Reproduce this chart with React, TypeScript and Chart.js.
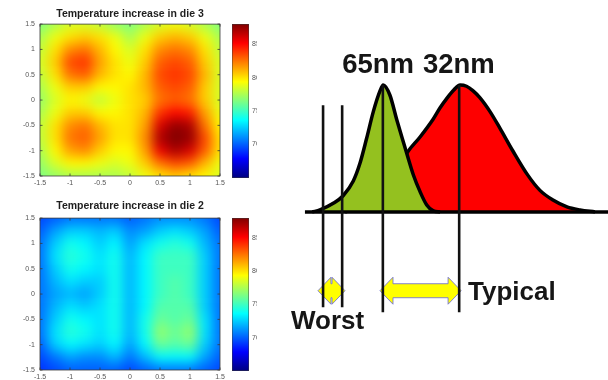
import React, { useEffect, useRef } from 'react';
import { Chart, registerables } from 'chart.js';
Chart.register(...registerables);

const FONT = '"Liberation Sans", Arial, sans-serif';

// ---- heat maps ----
const gridX = [-1.5, -1.25, -1, -0.75, -0.5, -0.25, 0, 0.25, 0.5, 0.75, 1, 1.25, 1.5];
const gridY = [1.5, 1.25, 1, 0.75, 0.5, 0.25, 0, -0.25, -0.5, -0.75, -1, -1.25, -1.5];
const axisTicks = [-1.5, -1, -0.5, 0, 0.5, 1, 1.5];
const colorTicks = [70, 75, 80, 85];
const tempMin = 65;
const tempMax = 88;

const die3Temps = [
  [76.5, 77.5, 78.5, 78.5, 78, 77, 76.5, 77.5, 78.5, 79, 78.5, 77.5, 76.5],
  [77.5, 79, 80, 80.5, 80, 79, 77.5, 79, 80.5, 81, 80.5, 79, 77.5],
  [78, 80, 82, 82.5, 81, 79.5, 78.5, 80, 82, 82.5, 82, 80, 78],
  [78.5, 80.5, 83.5, 84, 81.5, 80, 79, 80.5, 83, 83.5, 83, 80.5, 78.5],
  [78, 80, 82.5, 83, 81, 80, 79.5, 81, 83.5, 84, 83.5, 81, 78.5],
  [77.5, 79, 80.5, 80.5, 79.5, 79.5, 80, 81, 83, 83.5, 83, 80.5, 78.5],
  [77, 78.5, 79.5, 79, 78, 79, 80, 80.5, 82.5, 83, 82.5, 80.5, 78.5],
  [77.5, 79, 80.5, 80.5, 79.5, 79.5, 80, 81, 84, 85, 84.5, 81.5, 79],
  [78, 80, 82, 82.5, 81, 80, 80, 81.5, 86, 87.5, 87, 82.5, 79.5],
  [78, 80, 82.5, 83, 81.5, 80, 80, 82, 87, 88, 87.5, 83.5, 80],
  [77.5, 79.5, 81.5, 82, 80.5, 79.5, 79.5, 81.5, 85.5, 87, 86, 83, 80],
  [77, 78.5, 79.5, 79.5, 79, 78.5, 79, 80.5, 82.5, 83.5, 83, 81, 79],
  [76.5, 77, 77.5, 77.5, 77.5, 77.5, 78, 79, 80, 80.5, 80, 79.5, 78.5],
];

const die2Temps = [
  [69.5, 70, 70.5, 70.5, 70.5, 70.5, 70, 70.5, 71, 71, 71, 70.5, 69.5],
  [70, 71.5, 72.5, 72.5, 72, 72.5, 71, 71.5, 72.5, 73, 72.5, 71.5, 70],
  [70.5, 72.5, 74, 73.5, 72.5, 73.5, 71.5, 73, 74, 74.5, 74, 72, 70.5],
  [70.5, 73, 74.5, 74, 73, 74, 72, 73.5, 75, 75, 75, 72.5, 70.5],
  [70.5, 72.5, 74, 73.5, 73, 74, 72, 73.5, 75, 75, 75, 72.5, 70.5],
  [70.5, 72, 73, 72.5, 72.5, 74, 72, 73.5, 75, 75.5, 75, 72.5, 70.5],
  [70.5, 71.5, 72, 71.5, 72.5, 74, 72, 73.5, 75, 75.5, 75, 72.5, 70.5],
  [70.5, 72, 73, 72.5, 73, 74, 72, 73.5, 75.5, 75.5, 75.5, 72.5, 70.5],
  [70.5, 72.5, 74, 73.5, 73, 74, 72, 74, 76, 75.5, 76, 73, 70.5],
  [70.5, 73, 74.5, 74, 73, 74, 72, 74, 77, 76, 77, 73, 70.5],
  [70, 72.5, 73.5, 73, 72.5, 73.5, 71.5, 73.5, 76, 75.5, 76, 72.5, 70.5],
  [69.5, 70.5, 71.5, 71, 71, 72, 70.5, 72, 73.5, 73.5, 73.5, 71.5, 70],
  [69, 69.5, 70, 70, 70, 70, 69.5, 70, 70.5, 70.5, 70.5, 70, 69.5],
];

// ---- distributions ----
const delay65 = [7, 9.4, 13.6, 16.7, 19.9, 22, 24.1, 26.2, 28.3, 29.3, 31.4, 33.6, 35.6, 36.7, 38.8, 40.9, 43, 45.1, 47.2];
const density65 = [0, 0.016, 0.068, 0.128, 0.244, 0.383, 0.58, 0.79, 0.953, 1.0, 0.921, 0.724, 0.554, 0.462, 0.291, 0.16, 0.055, 0.008, 0];
const delay32 = [17.3, 23.6, 29.9, 34, 36.8, 40.9, 45, 47.2, 49.5, 51.5, 53.5, 55.5, 57.5, 59.7, 62.9, 66, 70.1, 74.5, 78.6, 82.7, 87.1, 91.2, 95.9];
const density32 = [0, 0.055, 0.17, 0.33, 0.465, 0.59, 0.73, 0.82, 0.9, 0.96, 1.0, 0.99, 0.955, 0.9, 0.79, 0.66, 0.48, 0.3, 0.17, 0.094, 0.04, 0.016, 0];
const baselineDelay = [4.7, 100];
const markerDelay = [10.4, 16.4, 29.2, 53.2];
const markerTop = [0.84, 0.84, 1.0, 1.0];
const markerBottom = [-0.75, -0.75, -0.79, -0.79];
const arrowFrom = [8.8, 28.3];
const arrowTo = [17.3, 53.8];
const arrowLevel = [-0.62, -0.62];
const noteText = ['65nm', '32nm', 'Typical', 'Worst'];
const noteDelay = [27.7, 53.1, 56.0, 0.3];
const noteLevel = [1.094, 1.094, -0.693, -0.921];
const noteAlign = ['center', 'center', 'left', 'left'];

function clamp01(v: number) {
  return Math.max(0, Math.min(1, v));
}
function jet(t: number) {
  const tt = clamp01(t);
  const r = clamp01(1.5 - Math.abs(4 * tt - 3));
  const g = clamp01(1.5 - Math.abs(4 * tt - 2));
  const b = clamp01(1.5 - Math.abs(4 * tt - 1));
  return `rgb(${Math.round(r * 255)},${Math.round(g * 255)},${Math.round(b * 255)})`;
}

const heatPlugin = {
  id: 'heat',
  beforeDatasetsDraw(chart: any) {
    const { ctx, chartArea: a, scales } = chart;
    const xs = scales.x;
    const ys = scales.y;
    const pts = chart.data.datasets[0].data;
    const hx = (gridX[1] - gridX[0]) / 2;
    const hy = (gridY[0] - gridY[1]) / 2;
    const pad = 30;
    const off = document.createElement('canvas');
    off.width = Math.ceil(a.right - a.left) + 2 * pad;
    off.height = Math.ceil(a.bottom - a.top) + 2 * pad;
    const o = off.getContext('2d')!;
    const ox = a.left - pad;
    const oy = a.top - pad;
    const xMin = gridX[0], xMax = gridX[gridX.length - 1];
    const yMax = gridY[0], yMin = gridY[gridY.length - 1];
    for (const p of pts) {
      let x0 = xs.getPixelForValue(p.x - hx) - ox;
      let x1 = xs.getPixelForValue(p.x + hx) - ox;
      let y0 = ys.getPixelForValue(p.y + hy) - oy;
      let y1 = ys.getPixelForValue(p.y - hy) - oy;
      if (p.x <= xMin) x0 = 0;
      if (p.x >= xMax) x1 = off.width;
      if (p.y >= yMax) y0 = 0;
      if (p.y <= yMin) y1 = off.height;
      o.fillStyle = jet((p.v - tempMin) / (tempMax - tempMin));
      o.fillRect(x0, y0, x1 - x0 + 0.6, y1 - y0 + 0.6);
    }
    ctx.save();
    ctx.beginPath();
    ctx.rect(a.left, a.top, a.right - a.left, a.bottom - a.top);
    ctx.clip();
    ctx.filter = 'blur(6px)';
    ctx.drawImage(off, ox, oy);
    ctx.restore();
  },
  afterDatasetsDraw(chart: any) {
    const { ctx, chartArea: a, scales } = chart;
    ctx.save();
    ctx.strokeStyle = '#3a3a3a';
    ctx.lineWidth = 0.8;
    ctx.strokeRect(a.left, a.top, a.right - a.left, a.bottom - a.top);
    ctx.beginPath();
    for (const v of axisTicks) {
      const px = scales.x.getPixelForValue(v);
      ctx.moveTo(px, a.bottom); ctx.lineTo(px, a.bottom - 2.5);
      ctx.moveTo(px, a.top); ctx.lineTo(px, a.top + 2.5);
      const py = scales.y.getPixelForValue(v);
      ctx.moveTo(a.left, py); ctx.lineTo(a.left + 2.5, py);
      ctx.moveTo(a.right, py); ctx.lineTo(a.right - 2.5, py);
    }
    ctx.stroke();
    ctx.restore();
  },
};

function heatConfig(title: string, temps: number[][], titlePad: { top: number; bottom: number }, xAxisHeight: number) {
  const data: any[] = [];
  gridY.forEach((yv, r) => gridX.forEach((xv, c) => data.push({ x: xv, y: yv, v: temps[r][c] })));
  const tickFont = { family: FONT, size: 7 };
  return {
    type: 'scatter',
    data: { datasets: [{ data, pointRadius: 0, pointHoverRadius: 0 }] },
    options: {
      animation: false,
      responsive: false,
      events: [],
      layout: { padding: { left: 0, right: 12, top: 0, bottom: 0 } },
      plugins: {
        legend: { display: false },
        tooltip: { enabled: false },
        title: {
          display: true,
          fullSize: false,
          text: title,
          color: '#1e1e1e',
          font: { family: FONT, size: 10.5, weight: 'bold', lineHeight: 1.2 },
          padding: titlePad,
        },
      },
      scales: {
        x: {
          type: 'linear',
          min: -1.5,
          max: 1.5,
          afterBuildTicks: (s: any) => { s.ticks = axisTicks.map((v) => ({ value: v })); },
          afterFit: (s: any) => { s.height = xAxisHeight; },
          grid: { display: false, drawTicks: false },
          border: { display: false },
          ticks: { font: tickFont, color: '#555', padding: 3, maxRotation: 0, autoSkip: false, callback: (v: any) => String(v) },
        },
        y: {
          type: 'linear',
          min: -1.5,
          max: 1.5,
          afterBuildTicks: (s: any) => { s.ticks = axisTicks.map((v) => ({ value: v })); },
          afterFit: (s: any) => { s.width = 40; },
          grid: { display: false, drawTicks: false },
          border: { display: false },
          ticks: { font: tickFont, color: '#555', padding: 5, autoSkip: false, callback: (v: any) => String(v) },
        },
      },
    },
    plugins: [heatPlugin],
  };
}

function colorbarConfig(padTop: number, padBottom: number) {
  return {
    type: 'bar',
    data: {
      labels: [''],
      datasets: [{
        data: [[tempMin, tempMax]],
        backgroundColor: (c: any) => {
          const chart = c.chart;
          if (!chart.chartArea) return 'transparent';
          const ys = chart.scales.y;
          const g = chart.ctx.createLinearGradient(0, ys.getPixelForValue(tempMin), 0, ys.getPixelForValue(tempMax));
          for (let i = 0; i <= 32; i++) g.addColorStop(i / 32, jet(i / 32));
          return g;
        },
        borderColor: '#3a3a3a',
        borderWidth: 0.8,
        borderSkipped: false,
        barPercentage: 1,
        categoryPercentage: 1,
      }],
    },
    options: {
      animation: false,
      responsive: false,
      events: [],
      layout: { padding: { left: 6, right: 0, top: padTop, bottom: padBottom } },
      plugins: { legend: { display: false }, tooltip: { enabled: false } },
      scales: {
        x: { display: false },
        y: {
          position: 'right',
          min: tempMin,
          max: tempMax,
          afterBuildTicks: (s: any) => { s.ticks = colorTicks.map((v) => ({ value: v })); },
          afterFit: (s: any) => { s.width = 8; },
          grid: { display: false, drawTicks: false },
          border: { display: false },
          ticks: { font: { family: FONT, size: 7 }, color: '#555', padding: 3 },
        },
      },
    },
  };
}

const notesPlugin = {
  id: 'notes',
  beforeDatasetsDraw(chart: any) {
    const { ctx, scales } = chart;
    ctx.save();
    arrowFrom.forEach((from, i) => {
      const x0 = scales.x.getPixelForValue(from);
      const x1 = scales.x.getPixelForValue(arrowTo[i]);
      const yc = scales.y.getPixelForValue(arrowLevel[i]);
      const hl = Math.min(13, (x1 - x0) / 2);
      const hh = 13.5;
      const sh = 7;
      ctx.beginPath();
      ctx.moveTo(x0, yc);
      ctx.lineTo(x0 + hl, yc - hh);
      ctx.lineTo(x0 + hl, yc - sh);
      ctx.lineTo(x1 - hl, yc - sh);
      ctx.lineTo(x1 - hl, yc - hh);
      ctx.lineTo(x1, yc);
      ctx.lineTo(x1 - hl, yc + hh);
      ctx.lineTo(x1 - hl, yc + sh);
      ctx.lineTo(x0 + hl, yc + sh);
      ctx.lineTo(x0 + hl, yc + hh);
      ctx.closePath();
      ctx.fillStyle = '#ffff00';
      ctx.fill();
      ctx.strokeStyle = 'rgba(110,110,210,0.85)';
      ctx.lineWidth = 1;
      ctx.stroke();
    });
    ctx.restore();
  },
  afterDatasetsDraw(chart: any) {
    const { ctx, scales } = chart;
    ctx.save();
    ctx.fillStyle = '#161616';
    ctx.textBaseline = 'alphabetic';
    noteText.forEach((t, i) => {
      ctx.font = `bold ${i < 2 ? 27.5 : 26}px ${FONT}`;
      ctx.textAlign = noteAlign[i];
      ctx.fillText(t, scales.x.getPixelForValue(noteDelay[i]), scales.y.getPixelForValue(noteLevel[i]));
    });
    ctx.restore();
  },
};

function distConfig() {
  const lineBase = { pointRadius: 0, pointHoverRadius: 0, clip: false as any };
  const datasets: any[] = [
    {
      ...lineBase,
      label: '65nm',
      data: delay65.map((x, i) => ({ x, y: density65[i] })),
      borderColor: '#000',
      borderWidth: 3.5,
      backgroundColor: '#94c11f',
      fill: 'origin',
      cubicInterpolationMode: 'monotone',
      borderJoinStyle: 'round',
      order: 2,
    },
    {
      ...lineBase,
      label: '32nm',
      data: delay32.map((x, i) => ({ x, y: density32[i] })),
      borderColor: '#000',
      borderWidth: 3.5,
      backgroundColor: '#fe0000',
      fill: 'origin',
      cubicInterpolationMode: 'monotone',
      borderJoinStyle: 'round',
      order: 3,
    },
    {
      ...lineBase,
      label: 'baseline',
      data: baselineDelay.map((x) => ({ x, y: 0 })),
      borderColor: '#000',
      borderWidth: 3.5,
      fill: false,
      order: 1,
    },
  ];
  markerDelay.forEach((x, i) => {
    datasets.push({
      ...lineBase,
      label: 'marker' + i,
      data: [{ x, y: markerTop[i] }, { x, y: markerBottom[i] }],
      borderColor: '#111',
      borderWidth: 2.6,
      fill: false,
      order: 0,
    });
  });
  return {
    type: 'line',
    data: { datasets },
    options: {
      animation: false,
      responsive: false,
      events: [],
      layout: { padding: 0 },
      plugins: { legend: { display: false }, tooltip: { enabled: false }, title: { display: false } },
      scales: {
        x: { type: 'linear', display: false, min: 0, max: 100 },
        y: { type: 'linear', display: false, min: -1.008, max: 1.354 },
      },
    },
    plugins: [notesPlugin],
  };
}

function ChartBox(props: { left: number; top: number; width: number; height: number; build: () => any }) {
  const ref = useRef<HTMLCanvasElement>(null);
  useEffect(() => {
    const chart = new Chart(ref.current as HTMLCanvasElement, props.build());
    return () => chart.destroy();
  }, []);
  return (
    <canvas
      ref={ref}
      width={props.width}
      height={props.height}
      style={{ position: 'absolute', left: props.left, top: props.top, width: props.width, height: props.height }}
    />
  );
}

export default function App() {
  return (
    <div style={{ position: 'fixed', left: 0, top: 0, width: 608, height: 380, background: '#fff', overflow: 'hidden' }}>
      <ChartBox left={0} top={0} width={232} height={190}
        build={() => heatConfig('Temperature increase in die 3', die3Temps, { top: 7.5, bottom: 4 }, 14)} />
      <ChartBox left={226} top={0} width={31} height={190} build={() => colorbarConfig(24, 12)} />
      <ChartBox left={0} top={190} width={232} height={190}
        build={() => heatConfig('Temperature increase in die 2', die2Temps, { top: 9.5, bottom: 6 }, 10)} />
      <ChartBox left={226} top={190} width={31} height={190} build={() => colorbarConfig(28, 9)} />
      <ChartBox left={290} top={40} width={318} height={300} build={distConfig} />
    </div>
  );
}
